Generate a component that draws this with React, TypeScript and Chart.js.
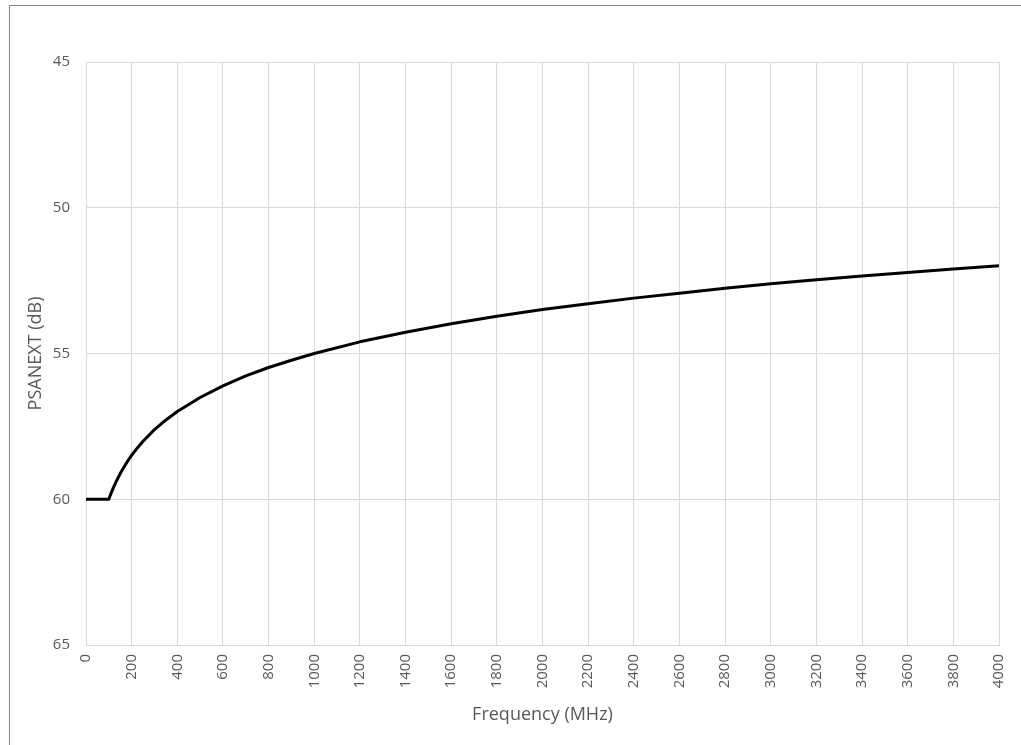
import React, { useEffect, useRef } from "react";
import { Chart, registerables } from "chart.js";

Chart.register(...registerables);

const frequencies = [0, 100, 110, 120, 130, 140, 150, 160, 180, 200, 225, 250, 300, 350, 400, 500, 600, 700, 800, 900, 1000, 1200, 1400, 1600, 1800, 2000, 2200, 2400, 2600, 2800, 3000, 3200, 3400, 3600, 3800, 4000];
const psanext = [60, 60, 59.79, 59.6, 59.43, 59.27, 59.12, 58.98, 58.72, 58.49, 58.24, 58.01, 57.61, 57.28, 56.99, 56.51, 56.11, 55.77, 55.48, 55.23, 55.0, 54.6, 54.27, 53.98, 53.72, 53.49, 53.29, 53.1, 52.93, 52.76, 52.61, 52.47, 52.34, 52.22, 52.1, 51.99];

const xTitle = "Frequency (MHz)";
const yTitle = "PSANEXT (dB)";
const xMin = 0, xMax = 4000, xStep = 200;
const yMin = 45, yMax = 65, yStep = 5;

export default function App() {
  const ref = useRef<HTMLCanvasElement>(null);
  useEffect(() => {
    if (!ref.current) return;
    const font = "'Open Sans', sans-serif";
    const chart = new Chart(ref.current, {
      type: "line",
      data: {
        datasets: [
          {
            data: frequencies.map((f, i) => ({ x: f, y: psanext[i] })),
            borderColor: "#000000",
            borderWidth: 3,
            pointRadius: 0,
            tension: 0,
            borderJoinStyle: "round",
            fill: false,
          },
        ],
      },
      options: {
        animation: false,
        responsive: false,
        maintainAspectRatio: false,
        layout: { padding: { top: 62, right: 22, bottom: 0, left: 0 } },
        plugins: { legend: { display: false }, tooltip: { enabled: false } },
        scales: {
          x: {
            type: "linear",
            min: xMin,
            max: xMax,
            ticks: {
              stepSize: xStep,
              minRotation: 90,
              maxRotation: 90,
              padding: 9,
              color: "#595959",
              font: { family: font, size: 15 },
              callback: (v: any) => String(v),
            },
            grid: { color: "#d9d9d9", drawTicks: false, lineWidth: 1 },
            border: { color: "#d9d9d9" },
            title: {
              display: true,
              text: xTitle,
              color: "#595959",
              font: { family: font, size: 18 },
              padding: { top: 0, bottom: 19 },
            },
            afterFit: (s: any) => { s.height = 100; s.paddingLeft = 0; s.paddingRight = 0; },
          },
          y: {
            type: "linear",
            reverse: true,
            min: yMin,
            max: yMax,
            ticks: {
              stepSize: yStep,
              padding: 16,
              color: "#595959",
              font: { family: font, size: 15 },
              callback: (v: any) => String(v),
            },
            grid: { color: "#d9d9d9", drawTicks: false, lineWidth: 1 },
            border: { color: "#d9d9d9" },
            title: {
              display: true,
              text: yTitle,
              color: "#595959",
              font: { family: font, size: 18 },
              padding: { top: 25, bottom: 0 },
            },
            afterFit: (s: any) => { s.width = 86; s.paddingTop = 0; s.paddingBottom = 0; },
          },
        },
      },
    });
    return () => chart.destroy();
  }, []);
  return (
    <div style={{ position: "fixed", left: 0, top: 0, width: 1021, height: 745, overflow: "hidden", background: "#fff" }}>
      <div style={{ position: "absolute", left: 9, top: 5, width: 1100, height: 800, borderTop: "1px solid #878787", borderLeft: "1px solid #878787" }} />
      <canvas ref={ref} width={1021} height={745} style={{ position: "absolute", left: 0, top: 0 }} />
    </div>
  );
}
